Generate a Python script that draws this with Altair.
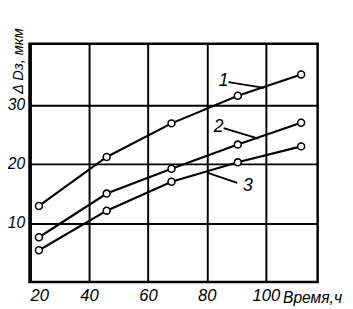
import altair as alt
import pandas as pd

# data
hours = [23, 46, 68, 90.5, 112]
curve1 = [12.9, 21.2, 26.9, 31.6, 35.2]
curve2 = [7.6, 15.0, 19.2, 23.3, 27.0]
curve3 = [5.4, 12.1, 17.0, 20.3, 23.0]
curve_names = ["1", "2", "3"]

x_ticks = [20, 40, 60, 80, 100]
y_ticks = [10, 20, 30]

# curve label annotations (data coordinates)
lab_x = [84, 82.3, 92.3]
lab_y = [34.1, 26.2, 16.3]
lead_x = [87.3, 85.7, 80.3]
lead_y = [33.9, 26.1, 18.5]
lead_x2 = [99.5, 97.5, 90.3]
lead_y2 = [32.9, 24.3, 16.8]

FONT = "Liberation Sans"

rows = []
for name, ys in zip(curve_names, [curve1, curve2, curve3]):
    for xv, yv in zip(hours, ys):
        rows.append({"curve": name, "t": xv, "d": yv})
df = pd.DataFrame(rows)

ann = pd.DataFrame({"name": curve_names, "lx": lab_x, "ly": lab_y,
                    "x1": lead_x, "y1": lead_y, "x2": lead_x2, "y2": lead_y2})

xs = alt.Scale(domain=[19.8, 117.6], nice=False, zero=False)
ys = alt.Scale(domain=[0, 40.4], nice=False, zero=False)

xaxis = alt.Axis(values=x_ticks, grid=True, gridColor="black", gridWidth=2, gridOpacity=1,
                 ticks=False, domain=False, labelFlush=True,
                 labelFont=FONT, labelFontSize=17, labelFontStyle="italic", labelColor="black",
                 labelPadding=6, title="Время,ч", titleFont=FONT, titleFontSize=16,
                 titleFontStyle="italic", titleFontWeight="normal", titleColor="black",
                 titleX=259, titleY=21, titleAlign="left", titleBaseline="alphabetic",
                 titleAnchor="start")
yaxis = alt.Axis(values=y_ticks, grid=True, gridColor="black", gridWidth=2, gridOpacity=1,
                 ticks=False, domain=False,
                 labelFont=FONT, labelFontSize=16, labelFontStyle="italic", labelColor="black",
                 labelPadding=5, title="Δ Dз, мкм", titleFont=FONT, titleFontSize=15,
                 titleFontStyle="italic", titleFontWeight="normal", titleColor="black",
                 titleAngle=270, titleX=-12, titleY=51, titleAlign="left",
                 titleBaseline="middle", titleAnchor="start")

base = alt.Chart(df)
lines = base.mark_line(color="black", strokeWidth=2.2).encode(
    x=alt.X("t:Q", scale=xs, axis=xaxis),
    y=alt.Y("d:Q", scale=ys, axis=yaxis),
    detail="curve:N",
)
pts = base.mark_point(shape="circle", size=50, filled=True, fill="white",
                      stroke="black", strokeWidth=1.6, opacity=1).encode(
    x=alt.X("t:Q", scale=xs), y=alt.Y("d:Q", scale=ys))

leaders = alt.Chart(ann).mark_rule(color="black", strokeWidth=1.8).encode(
    x=alt.X("x1:Q", scale=xs), y=alt.Y("y1:Q", scale=ys),
    x2="x2:Q", y2="y2:Q")
labels = alt.Chart(ann).mark_text(font=FONT, fontSize=18, fontStyle="italic",
                                  color="black", align="left", baseline="middle").encode(
    x=alt.X("lx:Q", scale=xs), y=alt.Y("ly:Q", scale=ys), text="name:N")

chart = (lines + pts + leaders + labels).properties(
    width=295, height=244,
    autosize=alt.AutoSizeParams(type="none"),
    padding={"left": 22, "top": 33, "right": 28, "bottom": 24},
    background="white",
).configure_view(stroke="black", strokeWidth=2.5)

chart.save("out.html", embed_options={"renderer": "svg", "actions": False})
